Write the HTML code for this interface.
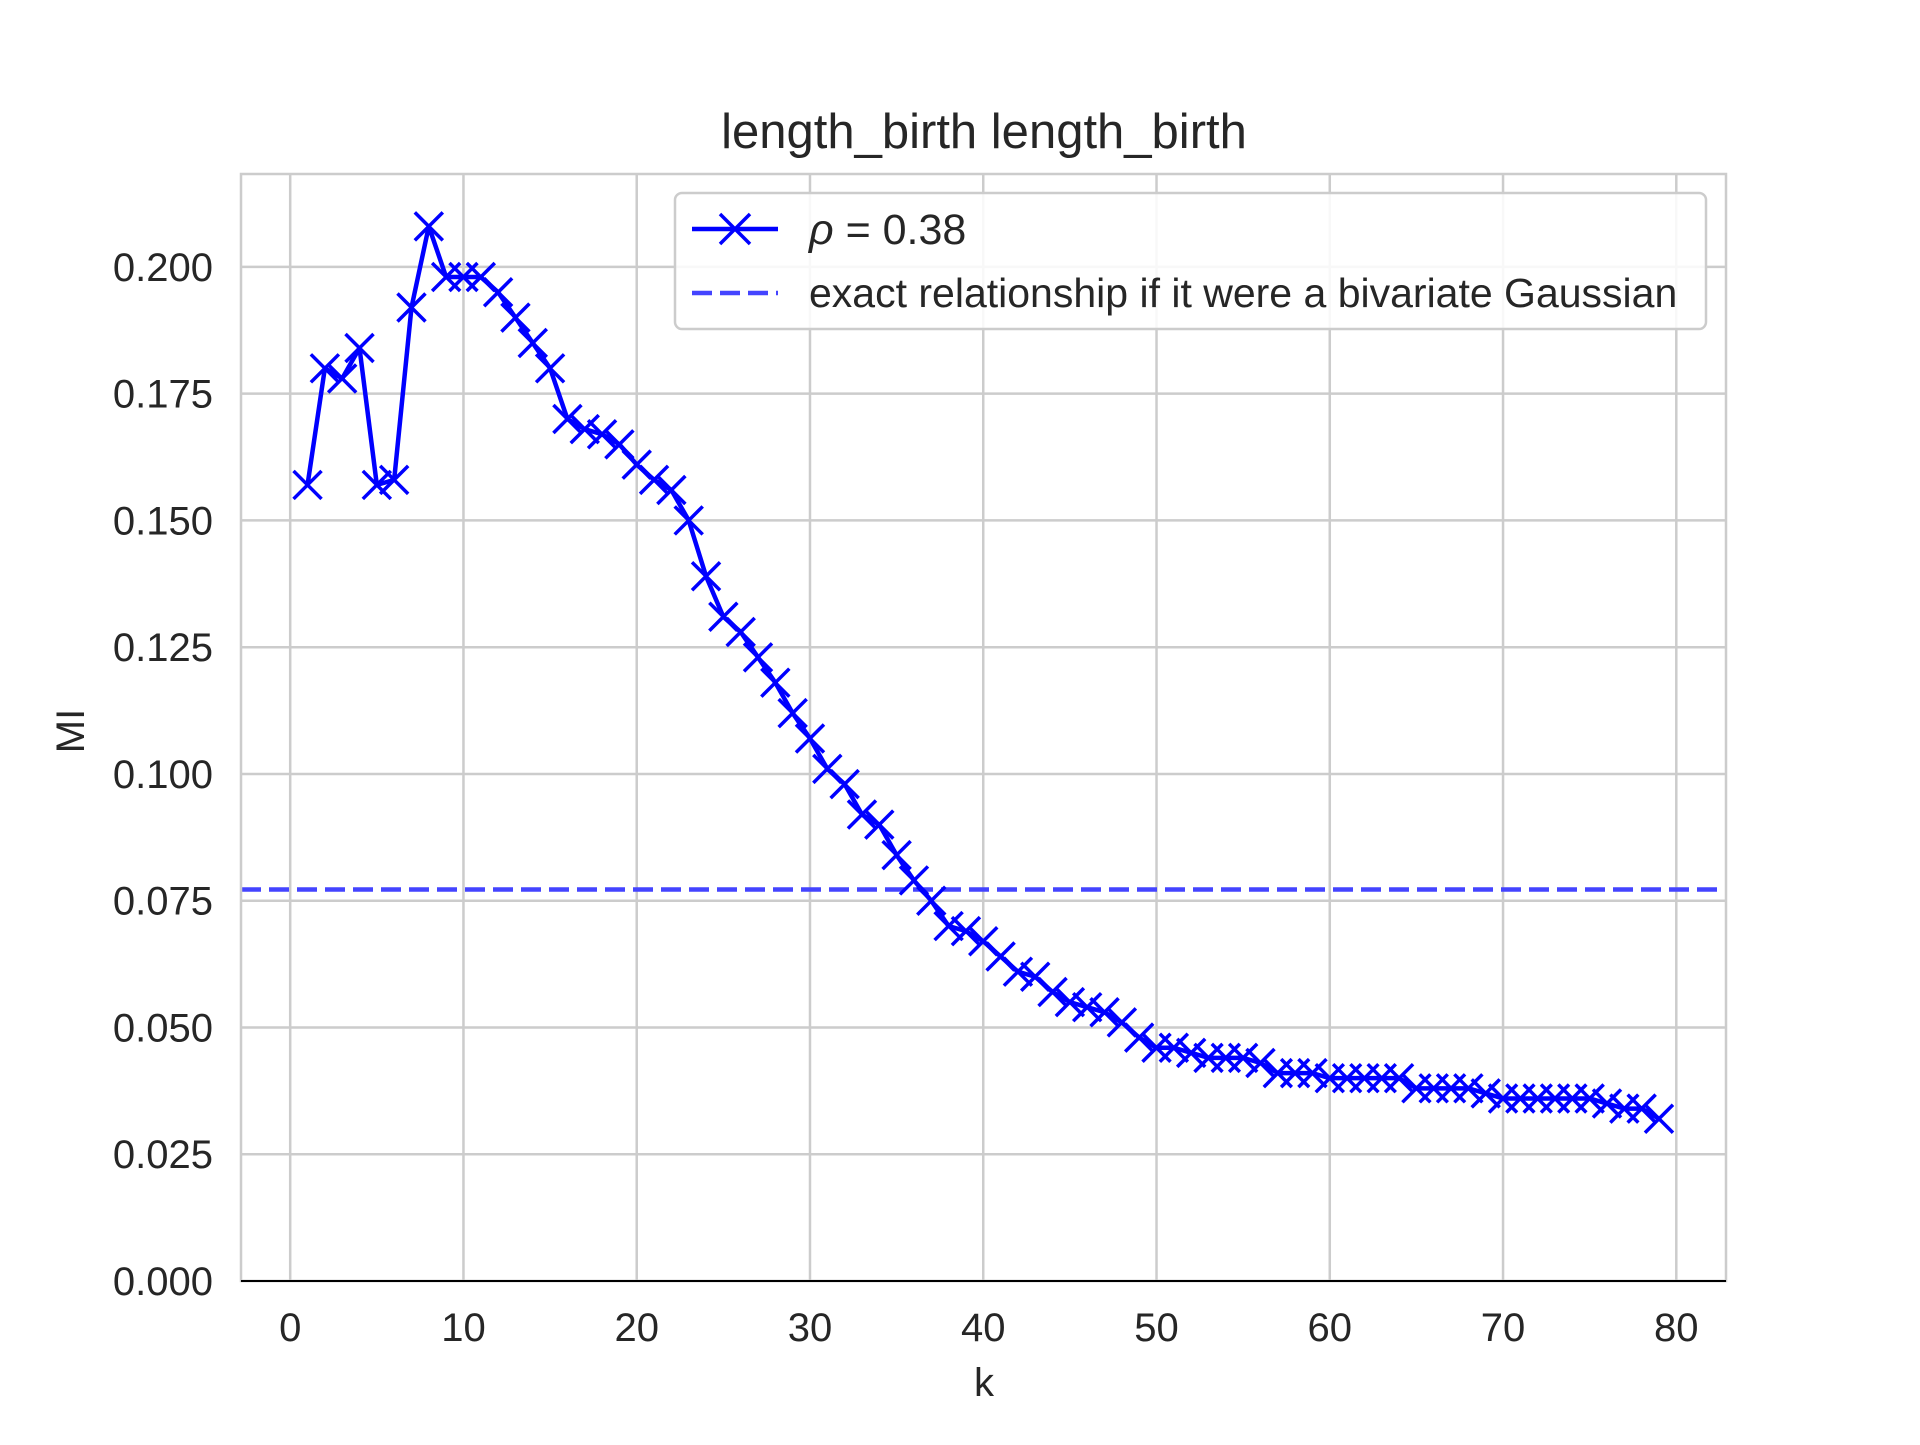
<!DOCTYPE html>
<html><head><meta charset="utf-8"><style>
html,body{margin:0;padding:0;background:#fff;}
svg text{font-family:"Liberation Sans","DejaVu Sans",sans-serif;fill:#262626;}
</style></head><body>
<svg id="chart" width="1920" height="1440" viewBox="0 0 1920 1440" xmlns="http://www.w3.org/2000/svg">
<rect width="1920" height="1440" fill="#fff"/>
<g id="grid"></g>
<g id="series"></g>
<g id="axes"></g>
<text x="984" y="148" font-size="49" text-anchor="middle">length_birth length_birth</text>
<text x="984" y="1396" font-size="40" text-anchor="middle">k</text>
<text transform="translate(84,731) rotate(-90)" font-size="40" text-anchor="middle">MI</text>
<g>
<rect x="675" y="193" width="1031" height="136" rx="7" fill="#fff" fill-opacity="0.85" stroke="#cccccc" stroke-width="2.5"/>
<line x1="692" y1="229" x2="778" y2="229" stroke="#0000ff" stroke-width="4.5"/>
<path d="M720,214 L750,244 M750,214 L720,244" stroke="#0000ff" stroke-width="3.5"/>
<text x="809" y="244" font-size="43"><tspan font-style="italic">ρ</tspan> = 0.38</text>
<line x1="692" y1="293" x2="778" y2="293" stroke="#4444ff" stroke-width="4.5" stroke-dasharray="20,8"/>
<text x="809" y="307" font-size="41">exact relationship if it were a bivariate Gaussian</text>
</g>
</svg>
<script>
const ks = [];
for (let i = 1; i <= 79; i++) ks.push(i);
const miValues = [0.157,0.180,0.178,0.184,0.157,0.158,0.192,0.208,0.198,0.198,0.198,0.195,0.190,0.185,0.180,0.170,0.168,0.167,0.165,0.161,0.158,0.156,0.150,0.139,0.131,0.128,0.123,0.118,0.112,0.107,0.101,0.098,0.092,0.090,0.084,0.079,0.075,0.070,0.069,0.067,0.064,0.061,0.060,0.057,0.055,0.054,0.053,0.051,0.048,0.046,0.046,0.045,0.044,0.044,0.044,0.043,0.041,0.041,0.041,0.040,0.040,0.040,0.040,0.040,0.038,0.038,0.038,0.038,0.037,0.036,0.036,0.036,0.036,0.036,0.036,0.035,0.034,0.034,0.032];
const gaussianValue = [0.0772];
const xTicks = [0,10,20,30,40,50,60,70,80];
const yTicks = [0,0.025,0.05,0.075,0.1,0.125,0.15,0.175,0.2];
const yTickLabels = ["0.000","0.025","0.050","0.075","0.100","0.125","0.150","0.175","0.200"];

const L=241,R=1726,T=174,B=1281;
const xs = v => 290.2 + v*(1676.3-290.2)/80;
const ys = v => 1281 - v*(1281-266.9)/0.2;
const NS="http://www.w3.org/2000/svg";
function mk(tag, attrs, parent){const e=document.createElementNS(NS,tag);for(const k in attrs)e.setAttribute(k,attrs[k]);parent.appendChild(e);return e;}
const grid=document.getElementById('grid'), axes=document.getElementById('axes'), series=document.getElementById('series');
xTicks.forEach(t=>{
  const g=mk('line',{x1:xs(t),x2:xs(t),y1:T,y2:B,stroke:'#cccccc','stroke-width':2.5},grid);
  
  
  const tx=mk('text',{x:xs(t),y:B+60,'font-size':40,'text-anchor':'middle'},axes);
  tx.textContent=t;
  
  
});
yTicks.forEach((t,i)=>{
  const g=mk('line',{x1:L,x2:R,y1:ys(t),y2:ys(t),stroke:'#cccccc','stroke-width':2.5},grid);
  
  
  const tx=mk('text',{x:L-28,y:ys(t)+14,'font-size':40,'text-anchor':'end'},axes);
  tx.textContent=yTickLabels[i];
  
  
});
const fr=mk('rect',{x:L,y:T,width:R-L,height:B-T,fill:'none',stroke:'#cccccc','stroke-width':2.5},axes);


const bl=mk('line',{x1:L,x2:R,y1:B,y2:B,stroke:'#000','stroke-width':2},axes);


const gl=mk('line',{x1:L,x2:R,y1:ys(gaussianValue[0]),y2:ys(gaussianValue[0]),stroke:'#4444ff','stroke-width':4.5,'stroke-dasharray':'20,8'},series);


const pts=ks.map((k,i)=>xs(k)+','+ys(miValues[i])).join(' ');
const pl=mk('polyline',{points:pts,fill:'none',stroke:'#0000ff','stroke-width':4.5,'stroke-linejoin':'round'},series);


ks.forEach((k,i)=>{
  const x=xs(k),y=ys(miValues[i]),s=14;
  const m=mk('path',{d:`M${x-s},${y-s} L${x+s},${y+s} M${x+s},${y-s} L${x-s},${y+s}`,stroke:'#0000ff','stroke-width':3.5},series);
  
  
});
</script>
</body></html>
